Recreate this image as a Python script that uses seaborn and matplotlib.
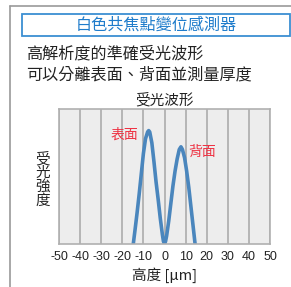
import matplotlib
matplotlib.use("Agg")
import matplotlib.pyplot as plt
from matplotlib.patches import Rectangle
from matplotlib.lines import Line2D
import seaborn as sns
import pandas as pd

# data
height_um = [-14.8, -14, -13, -12, -11, -10, -9, -8, -7.5, -7, -6, -5, -4, -3, -2, -1, -0.5, 0,
             0.5, 1, 2, 3, 4, 5, 6, 7, 7.8, 8.5, 9.5, 10.5, 11.5, 12.5, 13.5, 14.5]
intensity = [0, 0.10, 0.23, 0.37, 0.52, 0.67, 0.78, 0.83, 0.84, 0.83, 0.75, 0.61, 0.46, 0.33, 0.19, 0.07, 0.02, 0,
             0.02, 0.06, 0.17, 0.30, 0.43, 0.54, 0.63, 0.70, 0.72, 0.70, 0.64, 0.54, 0.42, 0.28, 0.14, 0]
xticks = [-50, -40, -30, -20, -10, 0, 10, 20, 30, 40, 50]

header = "白色共焦點變位感測器"
desc1 = "高解析度的準確受光波形"
desc2 = "可以分離表面、背面並測量厚度"
chart_title = "受光波形"
xlabel = "高度 [μm]"
ylabel = "受光強度"
peak_labels = [("表面", -19.2, 0.81), ("背面", 18.0, 0.68)]

sns.set_style("whitegrid", {"axes.facecolor": "#ededed", "grid.color": "#ababab",
                            "axes.edgecolor": "#b0b0b0"})
cjk = ["Noto Sans CJK TC", "DejaVu Sans"]
plt.rcParams["font.family"] = cjk

W, H = 291, 287
fig = plt.figure(figsize=(W / 100, H / 100), dpi=100)

def fx(px):
    return px / W

def fy(py):
    return 1 - py / H

# outer frame (left and top edges only)
fig.add_artist(Line2D([fx(10), fx(10)], [fy(6), fy(287)], color="#9a9a9a", lw=1.2))
fig.add_artist(Line2D([fx(10), fx(291)], [fy(6), fy(6)], color="#9a9a9a", lw=1.2))

# header box
fig.add_artist(Rectangle((fx(21.5), fy(36)), fx(268), 22 / H, fill=False,
                         edgecolor="#3b8fd2", lw=1.3))
fig.text(fx(156), fy(25), header, ha="center", va="center", fontsize=11.6, color="#1f7ccb")
fig.text(fx(26), fy(53.5), desc1, ha="left", va="center", fontsize=11.6, color="#222222")
fig.text(fx(26), fy(75), desc2, ha="left", va="center", fontsize=11.6, color="#222222")

ax = fig.add_axes([fx(59), fy(244), 211 / W, 135 / H])
df = pd.DataFrame({"height": height_um, "intensity": intensity})
sns.lineplot(data=df, x="height", y="intensity", ax=ax, color="#4a86bd", lw=2.6, sort=False)

ax.set_xlim(-50, 50)
ax.set_ylim(0, 1)
ax.set_xticks(xticks)
ax.set_xticklabels([str(t) for t in xticks], fontsize=9, family="Liberation Sans", color="#222222")
ax.set_yticks([])
ax.grid(axis="x", lw=1.2)
ax.grid(axis="y", visible=False)
ax.tick_params(axis="x", length=0, pad=5)
for s in ax.spines.values():
    s.set_linewidth(1.2)
ax.set_xlabel("")
ax.set_ylabel("")

for txt, x, y in peak_labels:
    ax.text(x, y, txt, ha="center", va="center", fontsize=10, color="#ee3344")

fig.text(fx(164), fy(100), chart_title, ha="center", va="center", fontsize=10.5, color="#222222")
fig.text(fx(165), fy(275), xlabel, ha="center", va="center", fontsize=10.5, color="#222222")
fig.text(fx(42.5), fy(180), "\n".join(ylabel), ha="center", va="center", fontsize=10.5,
         color="#222222", linespacing=1.0)

fig.savefig("out.png", dpi=100)
